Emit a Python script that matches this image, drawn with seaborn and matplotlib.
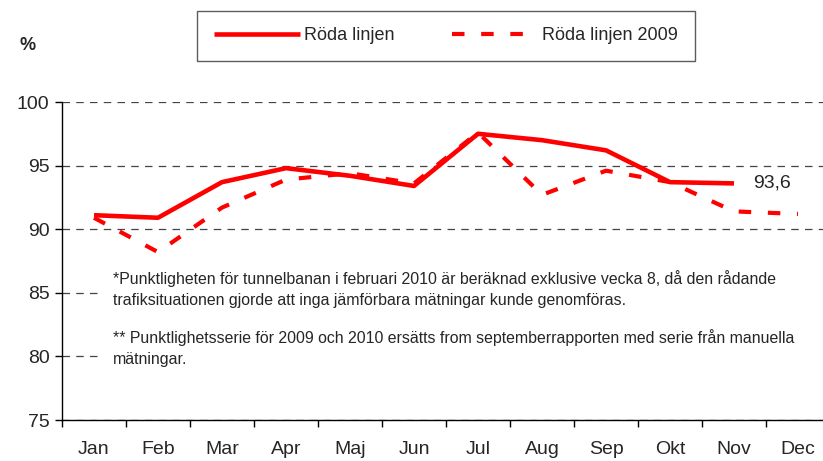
import numpy as np
import pandas as pd
import seaborn as sns
import matplotlib.pyplot as plt
from matplotlib.patches import Rectangle

# Data
months = ["Jan", "Feb", "Mar", "Apr", "Maj", "Jun", "Jul", "Aug", "Sep", "Okt", "Nov", "Dec"]
roda_2010 = [91.1, 90.9, 93.7, 94.8, 94.2, 93.4, 97.5, 97.0, 96.2, 93.7, 93.6, np.nan]
roda_2009 = [90.9, 88.2, 91.7, 93.9, 94.4, 93.6, 97.6, 92.7, 94.6, 93.7, 91.4, 91.2]
last_label = "93,6"
note1 = ("*Punktligheten för tunnelbanan i februari 2010 är beräknad exklusive vecka 8, då den rådande\n"
         "trafiksituationen gjorde att inga jämförbara mätningar kunde genomföras.")
note2 = ("** Punktlighetsserie för 2009 och 2010 ersätts from septemberrapporten med serie från manuella\n"
         "mätningar.")

df = pd.DataFrame({"month": months, "Röda linjen": roda_2010, "Röda linjen 2009": roda_2009})
df["pos"] = np.arange(len(months))

sns.set_style("white")
plt.rcParams["font.family"] = ["Liberation Sans", "DejaVu Sans"]

fig = plt.figure(figsize=(8.23, 4.61), dpi=100)
ax = fig.add_axes([62 / 823, 41 / 461, 768 / 823, 318 / 461])

sns.lineplot(data=df, x="pos", y="Röda linjen", ax=ax, color="#ff0000", lw=3.3,
             label="Röda linjen", zorder=3)
sns.lineplot(data=df, x="pos", y="Röda linjen 2009", ax=ax, color="#ff0000", lw=3.0,
             dashes=False, label="Röda linjen 2009", zorder=3, linestyle=(0, (3, 4)))
for ln in ax.lines:
    ln.set_solid_capstyle("butt")
    ln.set_dash_capstyle("butt")

ax.set_xlim(-0.5, len(months) - 0.5)
ax.set_ylim(75, 100)
ax.set_yticks([75, 80, 85, 90, 95, 100])
ax.set_xticks(np.arange(-0.5, len(months), 1.0))
ax.set_xticklabels([])
ax.set_xticks(np.arange(len(months)), minor=True)
ax.set_xticklabels(months, minor=True)
ax.tick_params(axis="x", which="major", length=5, width=1, color="black", direction="out", bottom=True)
ax.tick_params(axis="x", which="minor", length=0, pad=15, labelsize=14)
ax.tick_params(axis="y", length=5, width=1, color="black", direction="out", left=True, labelsize=14, pad=4)
ax.set_xlabel("")
ax.set_ylabel("")

ax.yaxis.grid(True, color="#444444", linestyle=(0, (6, 5)), linewidth=0.9)
ax.set_axisbelow(True)
for s in ["top", "right"]:
    ax.spines[s].set_visible(False)
for s in ["left", "bottom"]:
    ax.spines[s].set_color("black")
    ax.spines[s].set_linewidth(1)

# last value label
ax.text(10 + 0.3, roda_2010[10], last_label, fontsize=14, va="center", ha="left")

# white box behind the notes
ax.add_patch(Rectangle((0.1, 78.5), 11.4, 8.9, facecolor="white", edgecolor="none", zorder=1))
fig.text(113 / 823, 1 - 270 / 461, note1, fontsize=11.4, va="top", ha="left", linespacing=1.5)
fig.text(113 / 823, 1 - 329 / 461, note2, fontsize=11.4, va="top", ha="left", linespacing=1.5)

fig.text(20 / 823, 1 - 45 / 461, "%", fontsize=13, fontweight="bold", va="center", ha="left")

leg = ax.legend(loc="center", bbox_to_anchor=(446 / 823, 1 - 36 / 461), bbox_transform=fig.transFigure,
                ncol=2, frameon=True, fancybox=False, fontsize=13, handlelength=4.8,
                handletextpad=0.2, columnspacing=3.2, borderpad=0.9, borderaxespad=0)
leg.get_frame().set_edgecolor("#333333")
leg.get_frame().set_linewidth(1)

fig.savefig("out.png", dpi=100)
